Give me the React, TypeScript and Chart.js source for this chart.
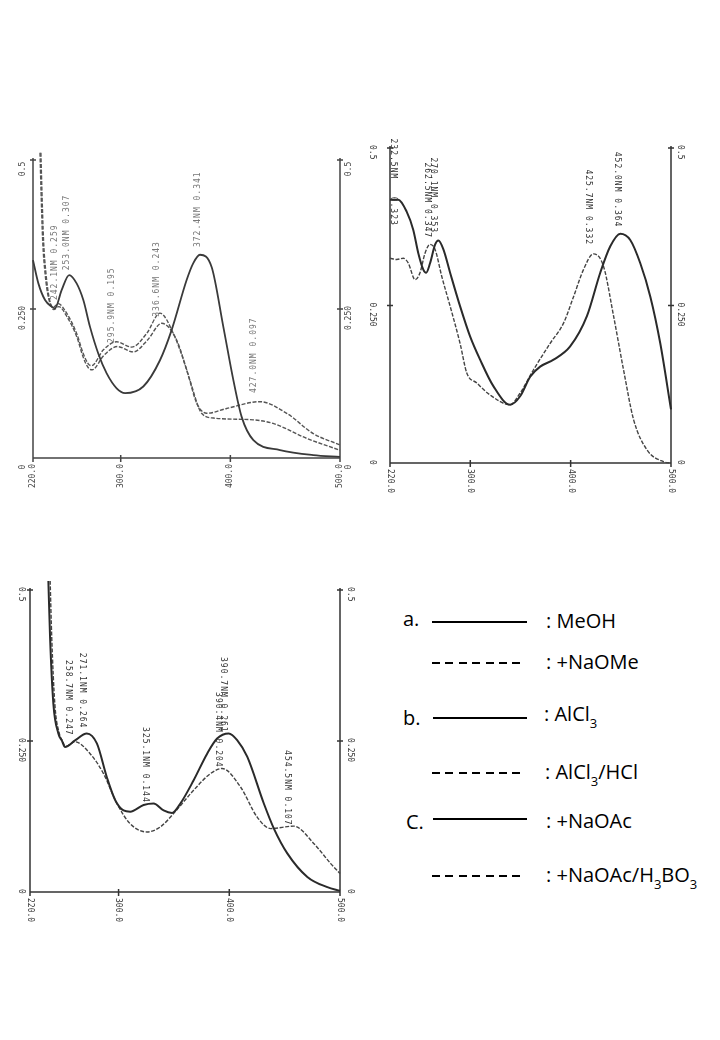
import React, { useEffect, useRef } from "react";
import { Chart, registerables } from "chart.js";

Chart.register(...registerables);

// ---------- shared axis ticks ----------
const xTickValues = [220, 300, 400, 500];
const xTickLabels = ["220.0", "300.0", "400.0", "500.0"];
const yTickValues = [0, 0.25, 0.5];
const yTickLabels = ["0", "0.250", "0.5"];

// ---------- panel a : MeOH / +NaOMe ----------
const aMeOHNm = [220, 224.9, 231, 237, 240, 246.2, 253, 259.8, 265.9, 272, 279.6, 287.2, 296.3, 304, 320.6, 335.8, 346.5, 360.2, 366.2, 372.3, 383, 393.6, 402.7, 410.3, 421, 445.3, 475.6, 500];
const aMeOHAbs = [0.332, 0.293, 0.265, 0.254, 0.251, 0.282, 0.307, 0.293, 0.265, 0.22, 0.175, 0.142, 0.117, 0.109, 0.12, 0.164, 0.215, 0.299, 0.327, 0.341, 0.32, 0.22, 0.131, 0.069, 0.03, 0.0134, 0.005, 0.002];
const aNaOMeNm = [226.4, 227.3, 228.8, 231, 234, 238.5, 243, 250.7, 259.8, 265.9, 270.4, 273.5, 284, 296.3, 310, 323.7, 335.8, 348, 360.2, 369.3, 378.4, 396.6, 427, 451.4, 475.6, 500];
const aNaOMeAbs = [0.512, 0.45, 0.366, 0.31, 0.27, 0.253, 0.259, 0.243, 0.209, 0.175, 0.158, 0.155, 0.181, 0.195, 0.186, 0.209, 0.243, 0.209, 0.148, 0.092, 0.075, 0.083, 0.0945, 0.075, 0.041, 0.022];
const aNaOMe5Nm = [227.2, 228.1, 229.6, 231.8, 234.8, 239, 243.5, 251, 260, 266, 270.6, 274, 284.5, 296.8, 311.5, 324.5, 337.4, 351, 363, 373.8, 384.5, 421, 439, 469.6, 500];
const aNaOMe5Abs = [0.512, 0.45, 0.366, 0.31, 0.268, 0.249, 0.254, 0.237, 0.203, 0.168, 0.151, 0.148, 0.172, 0.187, 0.178, 0.198, 0.226, 0.198, 0.131, 0.075, 0.067, 0.064, 0.058, 0.033, 0.013];
const aNoteTexts = ["242.1NM 0.259", "253.0NM 0.307", "295.9NM 0.195", "336.6NM 0.243", "372.4NM 0.341", "427.0NM 0.097"];
const aNoteNm = [240.1, 251, 292, 333.1, 370.5, 421.6];
const aNoteAbs = [0.265, 0.315, 0.193, 0.237, 0.354, 0.109];

// ---------- panel b : AlCl3 / AlCl3+HCl ----------
const bAlCl3Nm = [220, 228.3, 236.6, 243.2, 248.2, 253.2, 256, 259.9, 264.9, 268.2, 273.2, 279.9, 289.8, 299.8, 309.8, 323, 339.7, 349.7, 359.7, 369.6, 383, 399.5, 416.2, 429.5, 439.5, 449.5, 459.4, 469.4, 479.4, 489.3, 500];
const bAlCl3Abs = [0.418, 0.418, 0.399, 0.37, 0.333, 0.307, 0.302, 0.317, 0.3465, 0.353, 0.339, 0.302, 0.249, 0.201, 0.164, 0.122, 0.0925, 0.106, 0.137, 0.153, 0.164, 0.185, 0.233, 0.302, 0.344, 0.364, 0.354, 0.317, 0.264, 0.19, 0.085];
const bHClNm = [220, 226.7, 233.3, 238.3, 245, 249.9, 254.9, 259.9, 264.9, 271.6, 279.9, 289.8, 296.5, 306.5, 319.7, 339.7, 349.7, 363, 379.6, 392.9, 402.9, 412.8, 422.8, 432.8, 442.8, 452.7, 462.7, 476, 492.6, 500];
const bHClAbs = [0.325, 0.323, 0.325, 0.317, 0.291, 0.302, 0.333, 0.347, 0.339, 0.296, 0.249, 0.19, 0.143, 0.127, 0.108, 0.0925, 0.111, 0.148, 0.19, 0.222, 0.264, 0.307, 0.332, 0.312, 0.233, 0.148, 0.069, 0.021, 0.002, 0];
const bNoteTexts = ["232.5NM   0.323", "262.5NM 0.347", "270.1NM 0.353", "425.7NM 0.332", "452.0NM 0.364"];
const bNoteNm = [223, 256.6, 262.6, 417.5, 446.4];
const bNoteAbs = [0.515, 0.477, 0.485, 0.466, 0.494];

// ---------- panel c : +NaOAc / +NaOAc+H3BO3 ----------
const cNaOAcNm = [236.6, 238.1, 241.1, 245.6, 248.7, 251.7, 260.7, 271.3, 280.4, 289.4, 297, 304.5, 310.5, 322.6, 331.6, 340.7, 348.3, 355.8, 367.8, 380, 389, 399.5, 407.1, 416.2, 431.2, 440.3, 452.4, 470.5, 488.6, 500];
const cNaOAcAbs = [0.515, 0.423, 0.312, 0.2625, 0.251, 0.24, 0.251, 0.2625, 0.246, 0.19, 0.152, 0.135, 0.133, 0.144, 0.1465, 0.135, 0.131, 0.1465, 0.185, 0.229, 0.254, 0.2625, 0.2514, 0.224, 0.1465, 0.105, 0.064, 0.025, 0.008, 0.002];
const cBoricNm = [238.2, 239.6, 242.4, 246.4, 249.4, 252, 260.7, 274.3, 286.4, 298.5, 310.5, 325.6, 337.7, 349.7, 367.8, 383, 393.5, 410.1, 425.2, 437.3, 458.4, 476.5, 491.6, 500];
const cBoricAbs = [0.515, 0.423, 0.312, 0.263, 0.25, 0.241, 0.2486, 0.229, 0.196, 0.1465, 0.113, 0.0994, 0.1077, 0.13, 0.1685, 0.196, 0.2045, 0.174, 0.124, 0.105, 0.109, 0.08, 0.047, 0.0305];
const cNoteTexts = ["258.7NM 0.247", "271.1NM 0.264", "325.1NM 0.144", "390.4NM 0.204", "390.7NM 0.261", "454.5NM 0.107"];
const cNoteNm = [254.1, 266.8, 323.5, 389.6, 394.5, 451.8];
const cNoteAbs = [0.384, 0.396, 0.273, 0.331, 0.389, 0.235];

type Series = { label: string; nm: number[]; abs: number[]; dashed: boolean; color: string; width: number };
type PanelProps = {
  box: { x: number; y: number; w: number; h: number };
  pad: { left: number; right: number; top: number; bottom: number };
  series: Series[];
  notes: { texts: string[]; nm: number[]; abs: number[] };
  rot: number;
  yLabOffL: number;
  yLabOffR: number;
  ink: string;
  noteInk: string;
  noteSize: number;
};

function rotText(ctx: CanvasRenderingContext2D, text: string, x: number, y: number, rot: number, align: CanvasTextAlign) {
  ctx.save();
  ctx.translate(x, y);
  ctx.rotate(rot);
  ctx.textAlign = align;
  ctx.textBaseline = "middle";
  ctx.fillText(text, 0, 0);
  ctx.restore();
}

function Panel(props: PanelProps) {
  const ref = useRef<HTMLCanvasElement | null>(null);
  useEffect(() => {
    const canvas = ref.current;
    if (!canvas) return;
    const { rot, yLabOffL, yLabOffR, ink, noteInk, noteSize, notes } = props;
    const decor = {
      id: "panelDecor",
      beforeDatasetsDraw(chart: any) {
        const ctx: CanvasRenderingContext2D = chart.ctx;
        const xs = chart.scales.x;
        const ys = chart.scales.y;
        const L = xs.getPixelForValue(220);
        const R = xs.getPixelForValue(500);
        const B = ys.getPixelForValue(0);
        const T = ys.getPixelForValue(0.5);
        ctx.save();
        ctx.strokeStyle = ink;
        ctx.lineWidth = 1.5;
        ctx.beginPath();
        ctx.moveTo(L, T - 2);
        ctx.lineTo(L, B);
        ctx.lineTo(R, B);
        ctx.moveTo(R, T - 2);
        ctx.lineTo(R, B);
        yTickValues.forEach((v) => {
          const y = ys.getPixelForValue(v);
          if (v > 0) {
            ctx.moveTo(L - 3, y);
            ctx.lineTo(L + 3, y);
            ctx.moveTo(R - 3, y);
            ctx.lineTo(R + 3, y);
          }
        });
        xTickValues.forEach((v) => {
          const x = xs.getPixelForValue(v);
          ctx.moveTo(x, B - 3);
          ctx.lineTo(x, B + 4);
        });
        ctx.stroke();
        ctx.fillStyle = ink;
        ctx.font = "8px 'DejaVu Sans Mono'";
        xTickValues.forEach((v, i) => {
          const x = xs.getPixelForValue(v);
          rotText(ctx, xTickLabels[i], x, B + 6, rot, rot > 0 ? "left" : "right");
        });
        yTickValues.forEach((v, i) => {
          const y = ys.getPixelForValue(v);
          if (rot > 0) {
            rotText(ctx, yTickLabels[i], L + yLabOffL, y - 3, rot, "left");
            rotText(ctx, yTickLabels[i], R + yLabOffR, y - 3, rot, "left");
          } else {
            rotText(ctx, yTickLabels[i], L + yLabOffL, y + 9, rot, "center");
            rotText(ctx, yTickLabels[i], R + yLabOffR, y + 9, rot, "center");
          }
        });
        ctx.restore();
      },
      afterDatasetsDraw(chart: any) {
        const ctx: CanvasRenderingContext2D = chart.ctx;
        const xs = chart.scales.x;
        const ys = chart.scales.y;
        ctx.save();
        ctx.fillStyle = noteInk;
        ctx.font = `${noteSize}px 'DejaVu Sans Mono'`;
        (ctx as any).letterSpacing = "1px";
        notes.texts.forEach((t, i) => {
          rotText(ctx, t, xs.getPixelForValue(notes.nm[i]), ys.getPixelForValue(notes.abs[i]), rot, "left");
        });
        ctx.restore();
      },
    };
    const chart = new Chart(canvas, {
      type: "line",
      data: {
        datasets: props.series.map((s) => ({
          label: s.label,
          data: s.nm.map((x, i) => ({ x, y: s.abs[i] })),
          borderColor: s.color,
          borderWidth: s.width,
          borderDash: s.dashed ? [4, 1.6] : [],
          pointRadius: 0,
          fill: false,
          cubicInterpolationMode: "monotone",
          clip: false,
        })),
      },
      options: {
        responsive: false,
        animation: false,
        events: [],
        layout: { padding: props.pad },
        plugins: { legend: { display: false }, tooltip: { enabled: false } },
        scales: {
          x: { type: "linear", min: 220, max: 500, display: false },
          y: { type: "linear", min: 0, max: 0.5, display: false },
        },
      },
      plugins: [decor],
    } as any);
    return () => chart.destroy();
  }, []);
  const { box } = props;
  return (
    <canvas
      ref={ref}
      width={box.w}
      height={box.h}
      style={{ position: "absolute", left: box.x, top: box.y, width: box.w, height: box.h }}
    />
  );
}

const legendFont: React.CSSProperties = {
  position: "absolute",
  fontFamily: "'Open Sans', sans-serif",
  fontSize: 20,
  lineHeight: "20px",
  color: "#000",
  whiteSpace: "nowrap",
};
const subStyle: React.CSSProperties = { fontSize: 13, position: "relative", top: 7 };

function SolidKey({ x, y, w }: { x: number; y: number; w: number }) {
  return <div style={{ position: "absolute", left: x, top: y, width: w, height: 2, background: "#000" }} />;
}
function DashKey({ x, y }: { x: number; y: number }) {
  return (
    <div
      style={{
        position: "absolute",
        left: x,
        top: y,
        width: 88,
        height: 2,
        background: "repeating-linear-gradient(to right, #000 0px, #000 8px, transparent 8px, transparent 13.4px)",
      }}
    />
  );
}

export default function App() {
  const darkInk = "#2a2a2a";
  return (
    <div style={{ position: "absolute", left: 0, top: 0, width: 720, height: 1040, background: "#fff", overflow: "hidden" }}>
      <Panel
        box={{ x: 0, y: 125, w: 375, h: 380 }}
        pad={{ left: 33, right: 35, top: 35, bottom: 47 }}
        series={[
          { label: "MeOH", nm: aMeOHNm, abs: aMeOHAbs, dashed: false, color: "#3a3a3a", width: 1.8 },
          { label: "+NaOMe", nm: aNaOMeNm, abs: aNaOMeAbs, dashed: true, color: "#555", width: 1.4 },
          { label: "+NaOMe (5 min)", nm: aNaOMe5Nm, abs: aNaOMe5Abs, dashed: true, color: "#555", width: 1.4 },
        ]}
        notes={{ texts: aNoteTexts, nm: aNoteNm, abs: aNoteAbs }}
        rot={-Math.PI / 2}
        yLabOffL={-10}
        yLabOffR={9}
        ink="#444"
        noteInk="#777"
        noteSize={8}
      />
      <Panel
        box={{ x: 360, y: 125, w: 360, h: 380 }}
        pad={{ left: 30, right: 49, top: 23, bottom: 42 }}
        series={[
          { label: "AlCl3", nm: bAlCl3Nm, abs: bAlCl3Abs, dashed: false, color: darkInk, width: 2 },
          { label: "AlCl3/HCl", nm: bHClNm, abs: bHClAbs, dashed: true, color: "#444", width: 1.4 },
        ]}
        notes={{ texts: bNoteTexts, nm: bNoteNm, abs: bNoteAbs }}
        rot={Math.PI / 2}
        yLabOffL={-18}
        yLabOffR={9}
        ink="#333"
        noteInk="#333"
        noteSize={8}
      />
      <Panel
        box={{ x: 0, y: 560, w: 375, h: 380 }}
        pad={{ left: 30, right: 35, top: 30, bottom: 48 }}
        series={[
          { label: "+NaOAc", nm: cNaOAcNm, abs: cNaOAcAbs, dashed: false, color: darkInk, width: 2 },
          { label: "+NaOAc/H3BO3", nm: cBoricNm, abs: cBoricAbs, dashed: true, color: "#444", width: 1.4 },
        ]}
        notes={{ texts: cNoteTexts, nm: cNoteNm, abs: cNoteAbs }}
        rot={Math.PI / 2}
        yLabOffL={-9}
        yLabOffR={10}
        ink="#333"
        noteInk="#333"
        noteSize={8}
      />

      <div style={{ ...legendFont, left: 403, top: 609 }}>a.</div>
      <SolidKey x={432} y={621} w={95} />
      <div style={{ ...legendFont, left: 546, top: 611 }}>: MeOH</div>
      <DashKey x={432} y={662} />
      <div style={{ ...legendFont, left: 546, top: 652 }}>: +NaOMe</div>

      <div style={{ ...legendFont, left: 403, top: 708 }}>b.</div>
      <SolidKey x={433} y={717} w={94} />
      <div style={{ ...legendFont, left: 544, top: 704 }}>
        : AlCl<span style={subStyle}>3</span>
      </div>
      <DashKey x={432} y={772} />
      <div style={{ ...legendFont, left: 545, top: 762 }}>
        : AlCl<span style={subStyle}>3</span>/HCl
      </div>

      <div style={{ ...legendFont, left: 406, top: 812 }}>C.</div>
      <SolidKey x={433} y={818} w={94} />
      <div style={{ ...legendFont, left: 546, top: 811 }}>: +NaOAc</div>
      <DashKey x={432} y={875} />
      <div style={{ ...legendFont, left: 546, top: 865 }}>
        : +NaOAc/H<span style={subStyle}>3</span>BO<span style={subStyle}>3</span>
      </div>
    </div>
  );
}
